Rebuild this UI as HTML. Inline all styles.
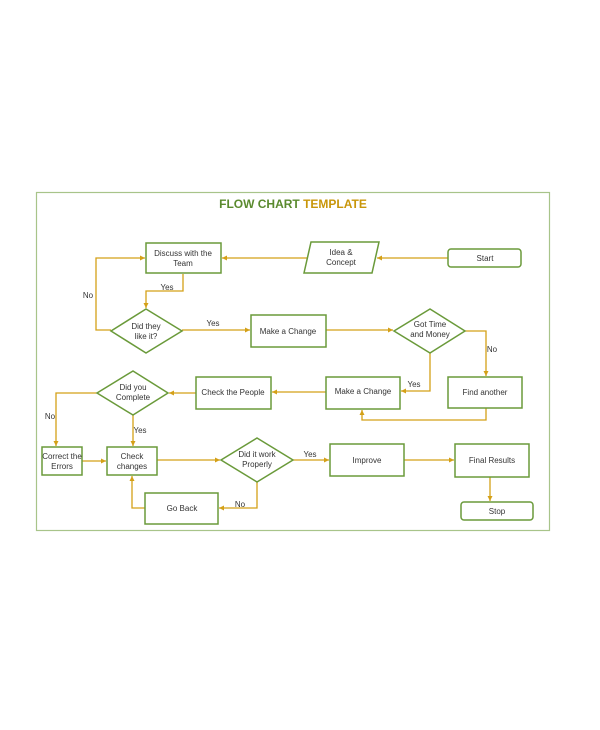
<!DOCTYPE html>
<html><head><meta charset="utf-8"><style>
body{margin:0;background:#fff;}
svg{display:block;font-family:"Liberation Sans",sans-serif;}
.b{fill:#fff;stroke:#6a9a3a;stroke-width:1.5}
.l{fill:none;stroke:#d4a017;stroke-width:1.3}
text{font-size:8px;fill:#333;text-anchor:middle}
</style></head><body>
<svg width="600" height="730" viewBox="0 0 600 730">
<defs><marker id="a" markerWidth="6" markerHeight="6" refX="5" refY="3" orient="auto" markerUnits="userSpaceOnUse"><path d="M0,0.5 L5,3 L0,5.5z" fill="#d4a017"/></marker></defs>
<rect x="36.5" y="192.5" width="513" height="338" fill="none" stroke="#a8c48a" stroke-width="1.2"/>
<text x="293" y="208" style="font-size:12px;font-weight:bold"><tspan fill="#5a8a2e">FLOW CHART </tspan><tspan fill="#c8960a">TEMPLATE</tspan></text>

<path class="l" d="M448,258 H377" marker-end="url(#a)"/>
<path class="l" d="M308,258 H222" marker-end="url(#a)"/>
<path class="l" d="M183,274 V291 H146 V308" marker-end="url(#a)"/>
<path class="l" d="M111,330 H96 V258 H145" marker-end="url(#a)"/>
<path class="l" d="M182,330 H250" marker-end="url(#a)"/>
<path class="l" d="M326,330 H393" marker-end="url(#a)"/>
<path class="l" d="M465,331 H486 V376" marker-end="url(#a)"/>
<path class="l" d="M430,353 V391 H401" marker-end="url(#a)"/>
<path class="l" d="M486,408 V420 H362 V410" marker-end="url(#a)"/>
<path class="l" d="M326,392 H272" marker-end="url(#a)"/>
<path class="l" d="M196,393 H169" marker-end="url(#a)"/>
<path class="l" d="M97,393 H56 V446" marker-end="url(#a)"/>
<path class="l" d="M133,415 V446" marker-end="url(#a)"/>
<path class="l" d="M82,461 H106" marker-end="url(#a)"/>
<path class="l" d="M157,460 H220" marker-end="url(#a)"/>
<path class="l" d="M257,481 V508 H219" marker-end="url(#a)"/>
<path class="l" d="M145,508 H132 V476" marker-end="url(#a)"/>
<path class="l" d="M293,460 H329" marker-end="url(#a)"/>
<path class="l" d="M404,460 H454" marker-end="url(#a)"/>
<path class="l" d="M490,477 V501" marker-end="url(#a)"/>

<rect class="b" x="448" y="249" width="73" height="18" rx="3"/><text x="485" y="261">Start</text>
<polygon class="b" points="311,242 379,242 372,273 304,273"/><text x="341" y="255">Idea &amp;</text><text x="341" y="265">Concept</text>
<rect class="b" x="146" y="243" width="75" height="30"/><text x="183" y="256">Discuss with the</text><text x="183" y="266">Team</text>
<polygon class="b" points="146,309 182,331 146,353 111,331"/><text x="146" y="329">Did they</text><text x="146" y="339">like it?</text>
<rect class="b" x="251" y="315" width="75" height="32"/><text x="288" y="334">Make a Change</text>
<polygon class="b" points="430,309 465,331 430,353 394,331"/><text x="430" y="327">Got Time</text><text x="430" y="337">and Money</text>
<rect class="b" x="448" y="377" width="74" height="31"/><text x="485" y="395">Find another</text>
<rect class="b" x="326" y="377" width="74" height="32"/><text x="363" y="394">Make a Change</text>
<rect class="b" x="196" y="377" width="75" height="32"/><text x="233" y="395">Check the People</text>
<polygon class="b" points="133,371 168,393 133,415 97,393"/><text x="133" y="390">Did you</text><text x="133" y="400">Complete</text>
<rect class="b" x="42" y="447" width="40" height="28"/><text x="62" y="459">Correct the</text><text x="62" y="469">Errors</text>
<rect class="b" x="107" y="447" width="50" height="28"/><text x="132" y="459">Check</text><text x="132" y="469">changes</text>
<polygon class="b" points="257,438 293,460 257,482 221,460"/><text x="257" y="457">Did it work</text><text x="257" y="467">Properly</text>
<rect class="b" x="145" y="493" width="73" height="31"/><text x="182" y="511">Go Back</text>
<rect class="b" x="330" y="444" width="74" height="32"/><text x="367" y="463">Improve</text>
<rect class="b" x="455" y="444" width="74" height="33"/><text x="492" y="463">Final Results</text>
<rect class="b" x="461" y="502" width="72" height="18" rx="3"/><text x="497" y="514">Stop</text>

<text x="167" y="290">Yes</text>
<text x="88" y="298">No</text>
<text x="213" y="326">Yes</text>
<text x="492" y="352">No</text>
<text x="414" y="387">Yes</text>
<text x="50" y="419">No</text>
<text x="140" y="433">Yes</text>
<text x="240" y="507">No</text>
<text x="310" y="457">Yes</text>
</svg>
</body></html>
